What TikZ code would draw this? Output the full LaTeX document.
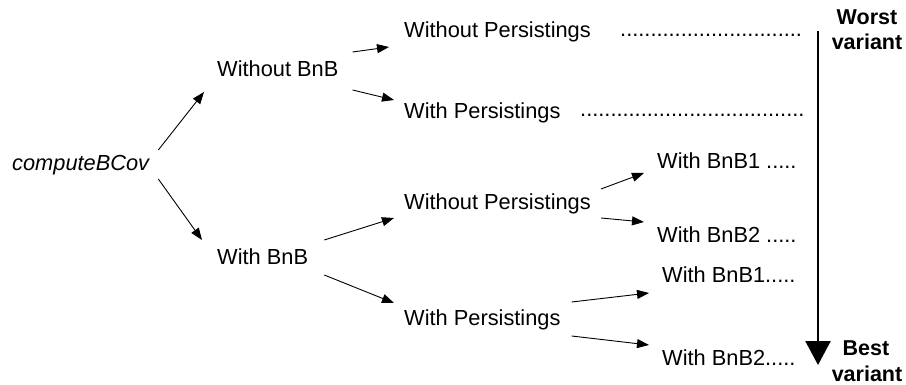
\documentclass[tikz,border=0pt]{standalone}
\usepackage{fontspec}
\setmainfont{Liberation Sans}
\usetikzlibrary{arrows.meta}
\begin{document}
\begin{tikzpicture}[x=1pt,y=-1pt,
  lbl/.style={inner sep=0pt,anchor=base west,font=\fontsize{21.8}{25}\selectfont},
  endlbl/.style={inner sep=0pt,anchor=base,font=\fontsize{21.5}{25}\selectfont\bfseries},
  arr/.style={line width=0.9pt,-{Triangle[length=12pt,width=9pt]}},
  bigarr/.style={line width=2.5pt,-{Triangle[length=24pt,width=25pt]}}]
\useasboundingbox (0,0) rectangle (906,385);

% root and first level
\node[lbl,font=\fontsize{21.8}{25}\selectfont\itshape] (cb) at (12,171) {computeBCov};
\node[lbl] (wob) at (217,77) {Without BnB};
\node[lbl] (wb)  at (217,265) {With BnB};

% second level
\node[lbl] (wop1) at (404,38)  {Without Persistings};
\node[lbl] (wp1)  at (404,119) {With Persistings};
\node[lbl] (wop2) at (404,210) {Without Persistings};
\node[lbl] (wp2)  at (404,325) {With Persistings};

% leaders of the upper branch
\node[lbl] (d1) at (620,37)  {..............................};
\node[lbl] (d2) at (580,117) {.....................................};

% third level
\node[lbl] (b11) at (657,169) {With BnB1 .....};
\node[lbl] (b21) at (657,243) {With BnB2 .....};
\node[lbl] (b12) at (662,283) {With BnB1.....};
\node[lbl] (b22) at (662,365) {With BnB2.....};

% ranking labels
\node[endlbl] (w1) at (867,25)  {Worst};
\node[endlbl] (w2) at (867,50)  {variant};
\node[endlbl] (s1) at (866,355) {Best};
\node[endlbl] (s2) at (867,381) {variant};

% tree connectors
\draw[arr] ([shift={(9,-21)}]cb.base east) -- ([shift={(-13,15)}]wob.base west);
\draw[arr] ([shift={(9,8)}]cb.base east)   -- ([shift={(-15,-25)}]wb.base west);
\draw[arr] ([shift={(14,-25)}]wob.base east) -- ([shift={(-15,9)}]wop1.base west);
\draw[arr] ([shift={(14,13)}]wob.base east)  -- ([shift={(-10,-19)}]wp1.base west);
\draw[arr] ([shift={(16,-25)}]wb.base east) -- ([shift={(-10,8)}]wop2.base west);
\draw[arr] ([shift={(16,10)}]wb.base east)  -- ([shift={(-10,-22)}]wp2.base west);
\draw[arr] ([shift={(10,-21)}]wop2.base east) -- ([shift={(-13,4)}]b11.base west);
\draw[arr] ([shift={(10,8)}]wop2.base east)   -- ([shift={(-13,-21)}]b21.base west);
\draw[arr] ([shift={(11,-23)}]wp2.base east) -- ([shift={(-13,10)}]b12.base west);
\draw[arr] ([shift={(11,11)}]wp2.base east)  -- ([shift={(-13,-20)}]b22.base west);

% ranking axis
\coordinate (axtop) at (818,31);
\coordinate (axbot) at (818,365);
\draw[bigarr] (axtop) -- (axbot);
\end{tikzpicture}
\end{document}
